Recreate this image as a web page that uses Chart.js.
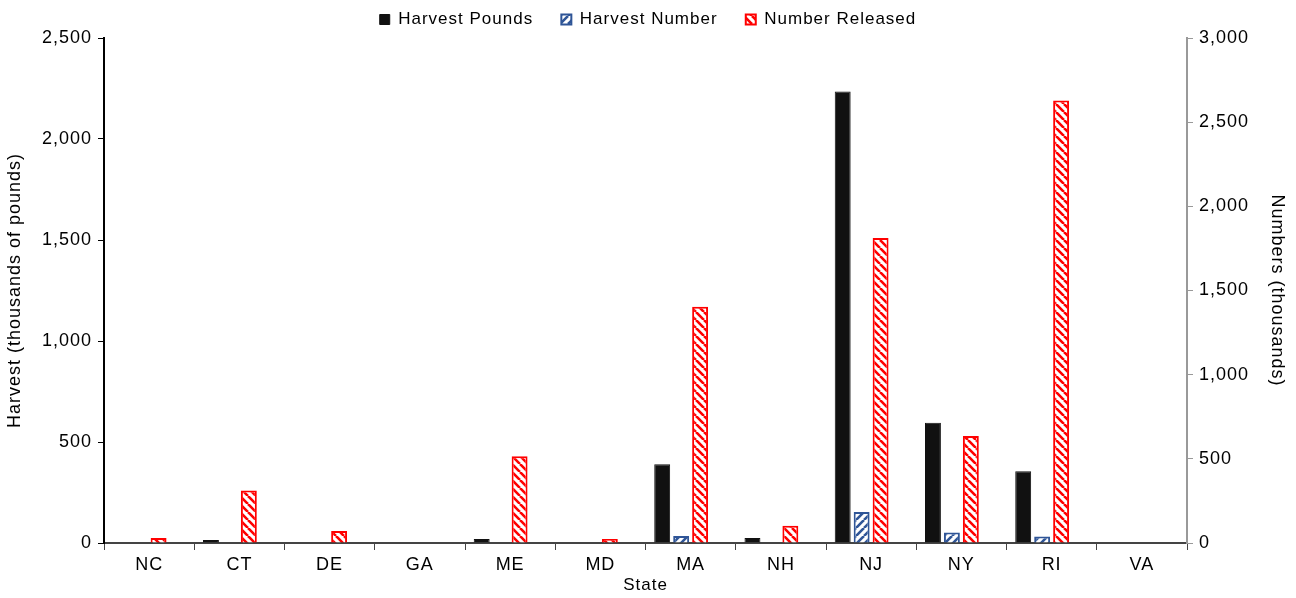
<!DOCTYPE html>
<html>
<head>
<meta charset="utf-8">
<script src="https://cdn.jsdelivr.net/npm/chart.js@4/dist/chart.umd.min.js"></script>
<style>
  html, body { margin: 0; padding: 0; background: #fff; }
  #wrap { width: 1296px; height: 598px; }
</style>
</head>
<body>
<div id="wrap"><canvas id="stateChart" width="1296" height="598"></canvas></div>
<script>
// states on the x axis
const states = ['NC', 'CT', 'DE', 'GA', 'ME', 'MD', 'MA', 'NH', 'NJ', 'NY', 'RI', 'VA'];
// harvest in thousands of pounds (left axis)
const harvestPounds = [0, 15, 0, 0, 20, 0, 390, 25, 2235, 595, 355, 0];
// numbers in thousands (right axis)
const harvestNumber = [0, 3, 0, 0, 3, 0, 42, 3, 184, 62, 38, 0];
const numberReleased = [30, 312, 72, 3, 516, 24, 1404, 102, 1812, 636, 2628, 3];
// Excel left an empty fourth slot in every group
const emptySlot = states.map(() => null);

// diagonal hatch fill, dir 1 = "\" and -1 = "/"
function hatch(color, dir) {
    const c = document.createElement('canvas');
    c.width = 8; c.height = 8;
    const g = c.getContext('2d');
    g.fillStyle = '#fff';
    g.fillRect(0, 0, 8, 8);
    g.strokeStyle = color;
    g.lineWidth = 2.6;
    g.beginPath();
    for (let k = -1; k <= 1; k++) {
        if (dir > 0) {
            g.moveTo(k * 8, 0); g.lineTo(k * 8 + 8, 8);
        } else {
            g.moveTo(k * 8, 8); g.lineTo(k * 8 + 8, 0);
        }
    }
    g.stroke();
    return g.createPattern(c, 'repeat');
}

const fmt = v => Number(v).toLocaleString('en-US');
const family = '"Liberation Sans", Arial, sans-serif';
const tickFont = { family: family, size: 18 };

// the reference text is set wide, so space the letters a bit
const wideText = {
    id: 'wideText',
    beforeInit(c) { c.ctx.letterSpacing = '1px'; },
    beforeUpdate(c) { c.ctx.letterSpacing = '1px'; },
    beforeDraw(c) { c.ctx.letterSpacing = '1px'; }
};

new Chart(document.getElementById('stateChart').getContext('2d'), {
    type: 'bar',
    data: {
        labels: states,
        datasets: [{
            label: 'Harvest Pounds',
            data: harvestPounds,
            backgroundColor: '#111111',
            borderColor: '#111111',
            borderWidth: 1,
            yAxisID: 'y'
        }, {
            label: 'Harvest Number',
            data: harvestNumber,
            backgroundColor: hatch('#2F5597', -1),
            borderColor: '#2F5597',
            borderWidth: 2,
            yAxisID: 'y2'
        }, {
            label: 'Number Released',
            data: numberReleased,
            backgroundColor: hatch('#FF0000', 1),
            borderColor: '#FF0000',
            borderWidth: 2,
            yAxisID: 'y2'
        }, {
            label: '',
            data: emptySlot,
            yAxisID: 'y2'
        }]
    },
    plugins: [wideText],
    options: {
        responsive: false,
        animation: false,
        categoryPercentage: 0.84,
        barPercentage: 0.84,
        layout: { padding: { top: 0, left: 4, right: 4, bottom: 2 } },
        plugins: {
            legend: {
                position: 'top',
                labels: {
                    font: { family: family, size: 17 },
                    color: '#000',
                    boxWidth: 10,
                    boxHeight: 10,
                    padding: 11,
                    filter: item => item.text !== '',
                    generateLabels: chart => {
                        const items = Chart.defaults.plugins.legend.labels.generateLabels(chart);
                        items.forEach((it, i) => { if (i < 2) it.text = it.text + '   '; });
                        return items;
                    }
                }
            },
            tooltip: { enabled: false }
        },
        scales: {
            x: {
                grid: { drawOnChartArea: false, tickLength: 7, color: '#444' },
                border: { color: '#444', width: 2 },
                ticks: { font: tickFont, color: '#000', padding: 4 },
                title: { display: true, text: 'State', font: { family: family, size: 17 }, color: '#000', padding: 0 },
                afterFit: s => { s.height = 53; }
            },
            y: {
                position: 'left',
                min: 0, max: 2500,
                ticks: { stepSize: 500, font: tickFont, color: '#000', callback: fmt, padding: 6 },
                grid: { drawOnChartArea: false, tickLength: 6, color: '#000' },
                border: { color: '#000', width: 2 },
                title: { display: true, text: 'Harvest (thousands of pounds)', font: tickFont, color: '#000', padding: 0 },
                afterFit: s => { s.width = 100; }
            },
            y2: {
                position: 'right',
                min: 0, max: 3000,
                ticks: { stepSize: 500, font: tickFont, color: '#000', callback: fmt, padding: 6 },
                grid: { drawOnChartArea: false, tickLength: 6, color: '#999' },
                border: { color: '#999', width: 2 },
                title: { display: true, text: 'Numbers (thousands)', font: tickFont, color: '#000', padding: 4 },
                afterFit: s => { s.width = 105; }
            }
        }
    }
});
</script>
</body>
</html>
